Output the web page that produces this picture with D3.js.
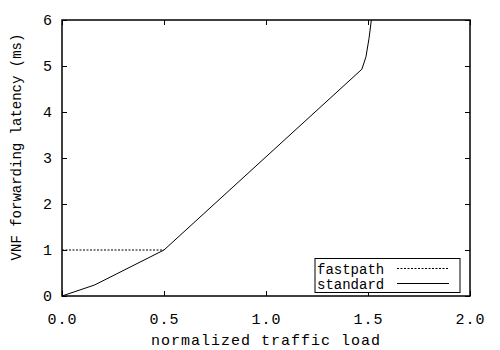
<!DOCTYPE html>
<html lang="en">
  <head>
    <meta charset="UTF-8">
    <script src="https://d3js.org/d3.v7.min.js"></script>
    <style>
      html,body{
        margin: 0px;
        background: #fff;
      }
      text{ font-family: "Liberation Mono", "DejaVu Sans Mono", monospace; fill: #000; }
    </style>
  </head>
  <body>
    <svg id="chart" width="500" height="350"></svg>
  </body>
</html>
<script>
// data
var loadStd = [0, 0.16, 0.5, 1.47, 1.49, 1.505, 1.525];
var latStd  = [0, 0.24, 1.0, 4.93, 5.2, 5.6, 6.3];
var loadFast = [0, 0.5];
var latFast  = [1.0, 1.0];
var xTicks = [0, 0.5, 1.0, 1.5, 2.0];
var yTicks = [0, 1, 2, 3, 4, 5, 6];
var seriesNames = ["fastpath", "standard"];

var svg = d3.select("#chart");
var pLeft = 62, pRight = 470, pTop = 20, pBottom = 296;

var x = d3.scaleLinear().domain([0, 2]).range([pLeft, pRight]);
var y = d3.scaleLinear().domain([0, 6]).range([pBottom, pTop]);

// clip so the steep part stops at the frame
svg.append("clipPath").attr("id", "clip")
  .append("rect").attr("x", pLeft).attr("y", pTop).attr("width", pRight - pLeft).attr("height", pBottom - pTop);

// ticks, inward on all four sides (gnuplot mirror)
var tl = 5;
var xAx = svg.append("g").attr("transform", "translate(0," + pBottom + ")")
  .call(d3.axisBottom(x).tickValues(xTicks).tickSize(-tl).tickFormat(d3.format(".1f")).tickPadding(14));
svg.append("g").attr("transform", "translate(0," + pTop + ")")
  .call(d3.axisTop(x).tickValues(xTicks).tickSize(-tl).tickFormat(""));
svg.append("g").attr("transform", "translate(" + pLeft + ",0)")
  .call(d3.axisLeft(y).tickValues(yTicks).tickSize(-tl).tickFormat(d3.format("d")).tickPadding(10));
svg.append("g").attr("transform", "translate(" + pRight + ",0)")
  .call(d3.axisRight(y).tickValues(yTicks).tickSize(-tl).tickFormat(""));

svg.selectAll(".domain").remove();
svg.selectAll(".tick line").attr("stroke", "#000").attr("stroke-width", 1);
svg.selectAll(".tick text").style("font-size", "15px").style("font-family", "Liberation Mono");
xAx.selectAll(".tick text").attr("letter-spacing", "1px").attr("dy", "0.9em");

var line = d3.line().x(function(d){ return x(d[0]); }).y(function(d){ return y(d[1]); });
var stdPts = d3.zip(loadStd, latStd);
var fastPts = d3.zip(loadFast, latFast);

var plot = svg.append("g").attr("clip-path", "url(#clip)");
plot.append("path").datum(fastPts).attr("d", line)
  .attr("fill", "none").attr("stroke", "#000").attr("stroke-width", 1).attr("stroke-dasharray", "2,1.5");
plot.append("path").datum(stdPts).attr("d", line)
  .attr("fill", "none").attr("stroke", "#000").attr("stroke-width", 1);

// frame
svg.append("rect").attr("x", pLeft).attr("y", pTop).attr("width", pRight - pLeft).attr("height", pBottom - pTop)
  .attr("fill", "none").attr("stroke", "#000").attr("stroke-width", 1.5);

// axis titles
svg.append("text").attr("x", (pLeft + pRight) / 2).attr("y", 345)
  .attr("text-anchor", "middle").style("font-size", "15px").attr("letter-spacing", "1px")
  .text("normalized traffic load");
svg.append("text").attr("transform", "translate(21," + 147 + ") rotate(-90)")
  .attr("text-anchor", "middle").style("font-size", "14px")
  .text("VNF forwarding latency (ms)");

// legend
var lg = svg.append("g");
lg.append("rect").attr("x", 315).attr("y", 258.5).attr("width", 145).attr("height", 34)
  .attr("fill", "#fff").attr("stroke", "#000").attr("stroke-width", 1);
seriesNames.forEach(function(name, i){
  var cy = 268.5 + i * 15;
  lg.append("text").attr("x", 317).attr("y", cy + 5).style("font-size", "14px").text(name);
  lg.append("line").attr("x1", 397).attr("x2", 449).attr("y1", cy).attr("y2", cy)
    .attr("stroke", "#000").attr("stroke-width", 1)
    .attr("stroke-dasharray", i == 0 ? "2,1.5" : null);
});
</script>
